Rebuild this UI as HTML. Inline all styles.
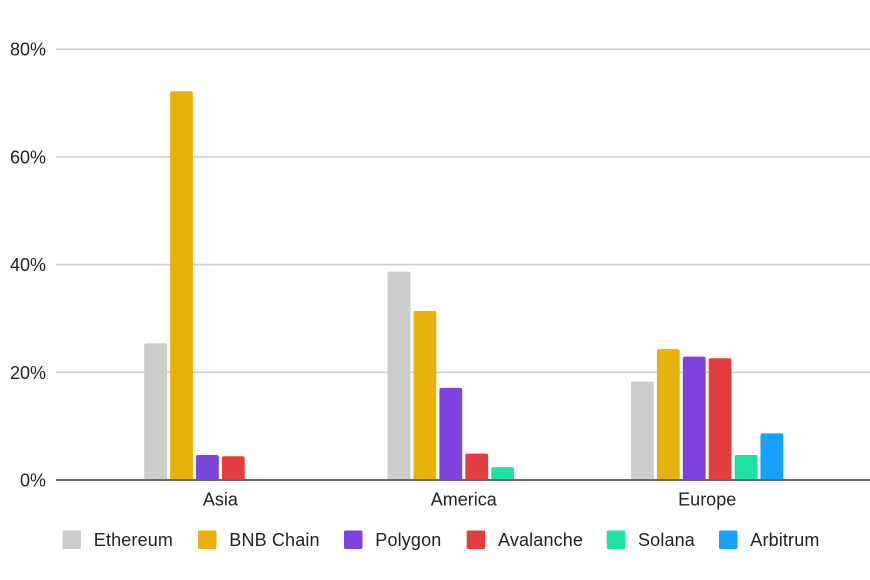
<!DOCTYPE html>
<html>
<head>
<meta charset="utf-8">
<title>Chain usage by region</title>
<style>
html,body{margin:0;padding:0;background:#fff;}
svg{display:block;filter:blur(0.3px);}
text{font-family:"Liberation Sans",sans-serif;font-size:18px;fill:#222;}
.legend-text{letter-spacing:0.15px;}
</style>
</head>
<body>
<svg id="chart" width="870" height="580" viewBox="0 0 870 580" xmlns="http://www.w3.org/2000/svg"></svg>
<script>
const categories = ['Asia', 'America', 'Europe'];
const seriesNames = ['Ethereum', 'BNB Chain', 'Polygon', 'Avalanche', 'Solana', 'Arbitrum'];
const ethereum = [25.4, 38.7, 18.3];
const bnbChain = [72.2, 31.4, 24.3];
const polygon = [4.65, 17.1, 22.9];
const avalanche = [4.4, 4.9, 22.6];
const solana = [0, 2.4, 4.65];
const arbitrum = [0, 0, 8.65];
const yTicks = [0, 20, 40, 60, 80];

const seriesValues = [ethereum, bnbChain, polygon, avalanche, solana, arbitrum];
const colors = ['#cccccc', '#e9b10b', '#7c43de', '#e33d3f', '#1ee3a4', '#16a1fb'];
const legendSwatchX = [62.5, 198, 344, 466.7, 606.7, 719];

const svg = document.getElementById('chart');
const NS = 'http://www.w3.org/2000/svg';
const plotLeft = 56, plotRight = 870, y0 = 480, pxPerUnit = 5.385;
const firstGroupCenter = 220.4, groupStep = 243.4, barStep = 25.9, barWidth = 22.8;

function yScale(v) { return y0 - v * pxPerUnit; }
function xCenter(i) { return firstGroupCenter + i * groupStep; }
function barX(i, s) { return xCenter(i) + (s - seriesValues.length / 2) * barStep + (barStep - barWidth) / 2 - 0.05; }
function make(tag, attrs, parent) {
  const el = document.createElementNS(NS, tag);
  for (const k in attrs) el.setAttribute(k, attrs[k]);
  (parent || svg).appendChild(el);
  return el;
}

yTicks.forEach(function (t) {
  if (t !== 0) {
    const grid = make('line', {x1: plotLeft, x2: plotRight, y1: yScale(t), y2: yScale(t), stroke: '#cfcfcf', 'stroke-width': 1.6});
    
    
  }
  const label = make('text', {x: 46, y: yScale(t) + 6.5, 'text-anchor': 'end'});
  label.textContent = t + '%';
  
  
});

seriesValues.forEach(function (vals, s) {
  vals.forEach(function (v, i) {
    if (v <= 0) return;
    const top = yScale(v);
    const x = barX(i, s);
    const r = 2;
    const d = 'M' + x + ' ' + y0 + 'V' + (top + r) + 'Q' + x + ' ' + top + ' ' + (x + r) + ' ' + top +
      'H' + (x + barWidth - r) + 'Q' + (x + barWidth) + ' ' + top + ' ' + (x + barWidth) + ' ' + (top + r) + 'V' + y0 + 'Z';
    const bar = make('path', {d: d, fill: colors[s]});
    
    
  });
});

const axis = make('line', {x1: plotLeft, x2: plotRight, y1: y0, y2: y0, stroke: '#666666', 'stroke-width': 2});



categories.forEach(function (c, i) {
  const label = make('text', {x: xCenter(i), y: 505.5, 'text-anchor': 'middle'});
  label.textContent = c;
  
  
});

seriesNames.forEach(function (n, s) {
  const g = make('g', {});
  
  
  const swatch = make('rect', {x: legendSwatchX[s], y: 530.5, width: 18.5, height: 18.5, rx: 1.5, fill: colors[s]}, g);
  
  
  const label = make('text', {x: legendSwatchX[s] + 31.3, y: 546, class: 'legend-text'}, g);
  label.textContent = n;
  
  
});
</script>
</body>
</html>
